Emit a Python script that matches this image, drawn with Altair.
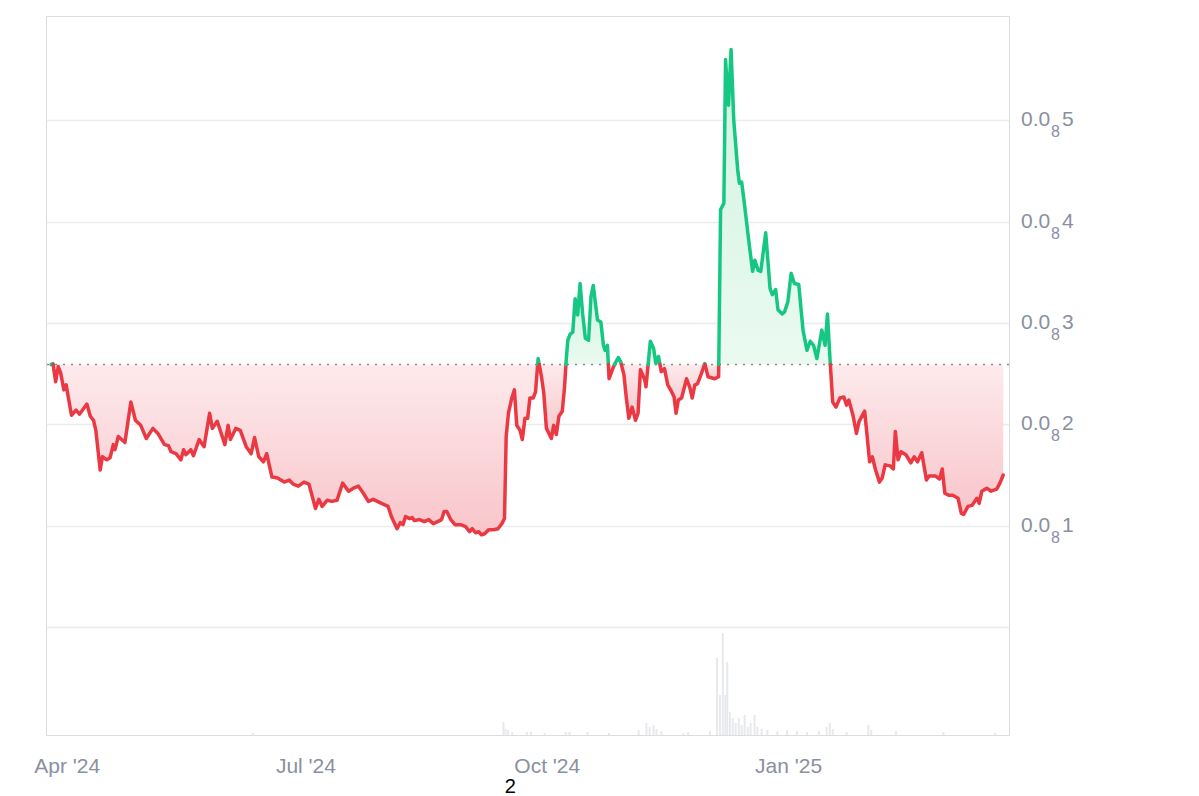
import altair as alt
import pandas as pd

START = pd.Timestamp("2024-03-26T00:00:00")

# price, in units of 1e-9 (axis shows 0.0₈N)
day_offsets = [0, 0.75, 1.77, 2.75, 3.66, 4.90, 5.77, 7.81, 9.54, 10.83, 13.69, 14.98, 16.22, 17.09,
    18.75, 19.61, 21.24, 22.52, 23.76, 24.40, 25.65, 28.18, 30.44, 32.18, 34.21, 36.33, 38.85, 40.74,
    43.27, 44.77, 45.76, 47.64, 49.53, 50.55, 51.41, 53.30, 54.32, 56.47, 58.35, 60.47, 61.49, 63.37,
    66.28, 67.52, 68.39, 70.43, 72.16, 74.42, 76.31, 77.59, 79.22, 80.99, 82.23, 84.23, 86.38, 88.91,
    90.80, 92.31, 94.30, 96.45, 98.34, 100.83, 102.11, 103.36, 105.24, 107.13, 109.02, 111.17, 113.43,
    115.32, 117.20, 119.09, 120.98, 122.86, 125.99, 128.52, 129.76, 131.91, 133.16, 134.18, 135.16,
    136.67, 137.68, 138.55, 140.44, 142.32, 143.98, 145.72, 147.38, 148.89, 149.87, 150.89, 152.40,
    154.02, 156.17, 158.05, 159.56, 160.58, 161.83, 163.07, 164.09, 165.33, 166.84, 168.73, 170.39,
    171.90, 172.88, 173.52, 174.39, 175.67, 176.65, 177.56, 178.80, 179.67, 180.69, 181.71, 182.57,
    183.82, 184.72, 185.70, 186.99, 187.85, 188.86, 190.76, 191.62, 192.64, 193.62, 194.91, 195.78,
    196.42, 197.02, 197.93, 198.91, 199.81, 200.79, 201.70, 202.68, 203.70, 204.94, 205.85, 206.71,
    208.34, 209.62, 210.60, 211.24, 212.11, 212.75, 214.00, 215.01, 216.26, 217.16, 218.41, 219.28,
    220.29, 221.54, 222.82, 223.80, 224.71, 226.33, 226.82, 228.48, 229.72, 230.59, 231.61, 232.63,
    233.87, 235.12, 236.63, 237.53, 238.29, 239.15, 240.40, 242.29, 243.57, 244.44, 245.45, 246.44,
    247.94, 249.23, 250.47, 253.00, 254.51, 255.26, 256.51, 257.15, 258.28, 259.26, 260.28, 261.79,
    262.43, 263.30, 264.32, 265.83, 267.45, 268.32, 269.60, 270.58, 272.46, 274.12, 274.99, 276.24,
    277.14, 278.76, 279.63, 280.91, 282.16, 283.40, 285.06, 286.68, 288.19, 289.44, 290.72, 291.97,
    293.85, 295.10, 296.00, 296.98, 298.00, 299.25, 300.75, 302.26, 303.28, 304.15, 305.81, 307.05,
    308.07, 310.19, 312.07, 313.09, 314.33, 315.84, 316.86, 317.99, 319.88, 321.13, 321.88, 322.90,
    324.03, 325.91, 327.80, 329.05, 330.33, 331.95, 333.72, 334.71, 337.23, 338.74, 339.76, 340.74,
    342.25, 343.76, 345.79, 347.04, 347.91, 349.57, 351.08, 352.96, 353.83, 354.85, 356.74, 358.36,
    360.51, 361.75, 363.00]

price = [2.59, 2.60, 2.42, 2.57, 2.51, 2.34, 2.39, 2.09, 2.14, 2.10, 2.20, 2.08, 2.04, 1.94,
    1.55, 1.68, 1.65, 1.67, 1.80, 1.75, 1.88, 1.82, 2.22, 2.04, 1.99, 1.86, 1.96, 1.91,
    1.80, 1.79, 1.73, 1.71, 1.65, 1.75, 1.70, 1.75, 1.69, 1.85, 1.78, 2.11, 1.96, 2.03,
    1.80, 1.99, 1.85, 1.96, 1.94, 1.78, 1.71, 1.87, 1.68, 1.63, 1.71, 1.48, 1.47, 1.43,
    1.45, 1.41, 1.39, 1.43, 1.41, 1.17, 1.26, 1.19, 1.25, 1.24, 1.25, 1.42, 1.34,
    1.37, 1.39, 1.32, 1.24, 1.26, 1.22, 1.19, 1.09, 0.97, 1.03, 1.01, 1.09,
    1.07, 1.08, 1.05, 1.06, 1.04, 1.06, 1.02, 1.04, 1.06, 1.14, 1.14, 1.06,
    1.01, 1.01, 0.99, 0.94, 0.97, 0.93, 0.94, 0.91, 0.92, 0.96, 0.96, 0.97,
    1.02, 1.07, 1.88, 2.11, 2.26, 2.34, 1.99, 1.94, 1.85, 2.06, 2.06, 2.26,
    2.26, 2.32, 2.65, 2.47, 2.31, 1.96, 1.86, 1.99, 1.90, 2.08, 2.13, 2.37,
    2.64, 2.83, 2.89, 2.91, 3.24, 3.08, 3.39, 3.09, 2.85, 2.83, 3.26, 3.37,
    3.03, 3.01, 2.78, 2.73, 2.78, 2.45, 2.54, 2.60, 2.66, 2.62, 2.49, 2.27,
    2.06, 2.17, 2.04, 2.11, 2.54, 2.44, 2.37, 2.82, 2.75, 2.60, 2.67, 2.52,
    2.55, 2.39, 2.32, 2.27, 2.11, 2.24, 2.26, 2.45, 2.36, 2.26, 2.39, 2.40,
    2.50, 2.60, 2.47, 2.45, 2.47, 4.12, 4.18, 5.60, 5.15, 5.70, 5.00, 4.51,
    4.38, 4.39, 4.18, 3.85, 3.51, 3.62, 3.52, 3.51, 3.89, 3.34, 3.28, 3.33,
    3.13, 3.09, 3.11, 3.21, 3.49, 3.39, 3.38, 2.93, 2.73, 2.82, 2.78, 2.65,
    2.93, 2.78, 3.09, 2.64, 2.22, 2.17, 2.26, 2.27, 2.19, 2.24, 2.08, 1.91,
    2.03, 2.13, 1.63, 1.68, 1.55, 1.43, 1.47, 1.60, 1.59, 1.56, 1.93, 1.65,
    1.73, 1.70, 1.62, 1.68, 1.63, 1.72, 1.45, 1.49, 1.49, 1.46, 1.56, 1.32,
    1.30, 1.30, 1.27, 1.12, 1.11, 1.19, 1.20, 1.27, 1.22, 1.34, 1.37, 1.34,
    1.36, 1.42, 1.50]

# volume (relative heights)
vol_days = [77, 172.5, 173.3, 174.3, 175.8, 181.4, 183, 188.2, 196.2, 197.7, 204.5, 212.7, 224,
    227, 228.2, 229.7, 230.8, 232.7, 241, 242.9, 251.2, 253.9, 255, 256.1, 257.1, 257.8, 258.8,
    259.9, 261, 262.2, 263.3, 264.4, 265.6, 266.7, 268.2, 269.3, 270.9, 273.1, 276.9, 280.6,
    284.4, 288.2, 292.7, 295.7, 296.9, 298, 303.3, 311.6, 312.7, 322.1, 340.2, 359.9]
vol_values = [2, 13, 6, 5, 3, 3, 3, 2, 3, 3, 3, 2, 5,
    12, 8, 10, 6, 4, 2, 3, 4, 77, 40, 102, 40, 73, 23,
    17, 12, 17, 10, 20, 8, 12, 20, 8, 6, 5, 4, 5,
    4, 3, 4, 8, 12, 6, 3, 10, 5, 4, 3, 2]

x_tick_dates = ["2024-04-01T00:00:00", "2024-07-01T00:00:00", "2024-10-01T00:00:00", "2025-01-01T00:00:00"]
y_ticks = [0, 1, 2, 3, 4, 5]
y_label_values = [1, 2, 3, 4, 5]
y_label_lead = "0.0"
y_label_sub = "8"

GREEN = "#16c784"
RED = "#ea3943"
FONT = "Liberation Sans"
LABEL = "#8a90a0"
W, H = 963, 719

base = price[0]

# split the series where it crosses the baseline so each piece can be coloured
rows = []
seg = 0
for i, (d, p) in enumerate(zip(day_offsets, price)):
    side = "up" if p >= base else "down"
    if i > 0:
        d0, p0 = day_offsets[i - 1], price[i - 1]
        side0 = "up" if p0 >= base else "down"
        if side != side0:
            t = (base - p0) / (p - p0)
            dc = d0 + t * (d - d0)
            rows.append((dc, base, seg, side0))
            seg += 1
            rows.append((dc, base, seg, side))
    rows.append((d, p, seg, side))

df = pd.DataFrame(rows, columns=["day", "price", "seg", "side"])
df["date"] = (START + pd.to_timedelta(df["day"], unit="D")).dt.strftime("%Y-%m-%dT%H:%M:%S")
df["base"] = base

vdf = pd.DataFrame({"day": vol_days, "vol": vol_values})
vdf["date"] = (START + pd.to_timedelta(vdf["day"], unit="D")).dt.strftime("%Y-%m-%dT%H:%M:%S")

ldf = pd.DataFrame({"value": y_label_values})
ldf["lead"] = y_label_lead
ldf["sub"] = y_label_sub
ldf["digit"] = ldf["value"].astype(str)

x_domain = [START.strftime("%Y-%m-%dT%H:%M:%S"),
            (START + pd.Timedelta(days=363.3)).strftime("%Y-%m-%dT%H:%M:%S")]

x_enc = alt.X("date:T", scale=alt.Scale(domain=x_domain),
              axis=alt.Axis(values=x_tick_dates, format="%b '%y", labelFont=FONT, labelFontSize=21,
                            labelColor=LABEL, domain=False, ticks=False, tickSize=0, grid=False,
                            labelPadding=20, title=None, labelFlush=False))

y_scale = alt.Scale(domain=[-1.066, 6.03], nice=False, zero=False)
y_axis = alt.Axis(orient="right", values=y_ticks, labels=False,
                  domain=False, ticks=False, tickSize=0, grid=True, gridColor="#ececec",
                  gridWidth=1.5, title=None)

volume = alt.Chart(vdf).mark_bar(size=2, color="#e7e9ed").encode(
    x=x_enc,
    y=alt.Y("vol:Q", scale=alt.Scale(domain=[0, H], nice=False), axis=None),
)

red_area = alt.Chart(df).transform_filter("datum.side == 'down'").mark_area(
    fill=alt.Gradient(gradient="linear", x1=0, x2=0, y1=0, y2=1,
                      stops=[alt.GradientStop(color="#fdeaec", offset=0),
                             alt.GradientStop(color="#f8c5ca", offset=1)]),
    interpolate="linear",
).encode(
    x=x_enc,
    y=alt.Y("price:Q", scale=y_scale, axis=y_axis),
    y2="base:Q",
    detail="seg:N",
)

green_area = alt.Chart(df).transform_filter("datum.side == 'up'").mark_area(
    fill=alt.Gradient(gradient="linear", x1=0, x2=0, y1=0, y2=1,
                      stops=[alt.GradientStop(color="#d2f3e1", offset=0),
                             alt.GradientStop(color="#eafaf1", offset=1)]),
    interpolate="linear",
).encode(
    x=x_enc,
    y=alt.Y("price:Q", scale=y_scale, axis=y_axis),
    y2="base:Q",
    detail="seg:N",
)

baseline = alt.Chart(pd.DataFrame({"base": [base]})).mark_rule(
    color="#8a8a8a", strokeWidth=1.5, strokeDash=[2, 6]
).encode(y=alt.Y("base:Q", scale=y_scale, axis=y_axis))

line = alt.Chart(df).mark_line(strokeWidth=3.5, strokeJoin="round", strokeCap="round").encode(
    x=x_enc,
    y=alt.Y("price:Q", scale=y_scale, axis=y_axis),
    color=alt.Color("side:N", scale=alt.Scale(domain=["up", "down"], range=[GREEN, RED]), legend=None),
    detail="seg:N",
    order="day:Q",
)

# right-hand price labels "0.0₈N" with a real dropped subscript
lab_base = alt.Chart(ldf)
lab_lead = lab_base.mark_text(align="left", baseline="middle", font=FONT, fontSize=21,
                              color=LABEL).encode(
    y=alt.Y("value:Q", scale=y_scale, axis=y_axis), x=alt.value(W + 12), text="lead:N")
lab_sub = lab_base.mark_text(align="left", baseline="middle", font=FONT, fontSize=16,
                             color=LABEL, dy=12).encode(
    y=alt.Y("value:Q", scale=y_scale, axis=y_axis), x=alt.value(W + 42), text="sub:N")
lab_digit = lab_base.mark_text(align="left", baseline="middle", font=FONT, fontSize=21,
                               color=LABEL).encode(
    y=alt.Y("value:Q", scale=y_scale, axis=y_axis), x=alt.value(W + 53), text="digit:N")

price_layers = alt.layer(red_area, green_area, baseline, line, lab_lead, lab_sub, lab_digit)

chart = alt.layer(volume, price_layers).resolve_scale(y="independent").properties(
    width=W,
    height=H,
    padding={"left": 25, "top": 8, "right": 5, "bottom": 0},
    title=alt.TitleParams("2", orient="bottom", anchor="start", dx=471, offset=1,
                          color="black", fontSize=20, fontWeight="normal", font=FONT,
                          baseline="top"),
).configure_view(stroke="#ebebeb", strokeWidth=2).configure(background="white")

chart.save("out.html", embed_options={"renderer": "svg", "actions": False})
